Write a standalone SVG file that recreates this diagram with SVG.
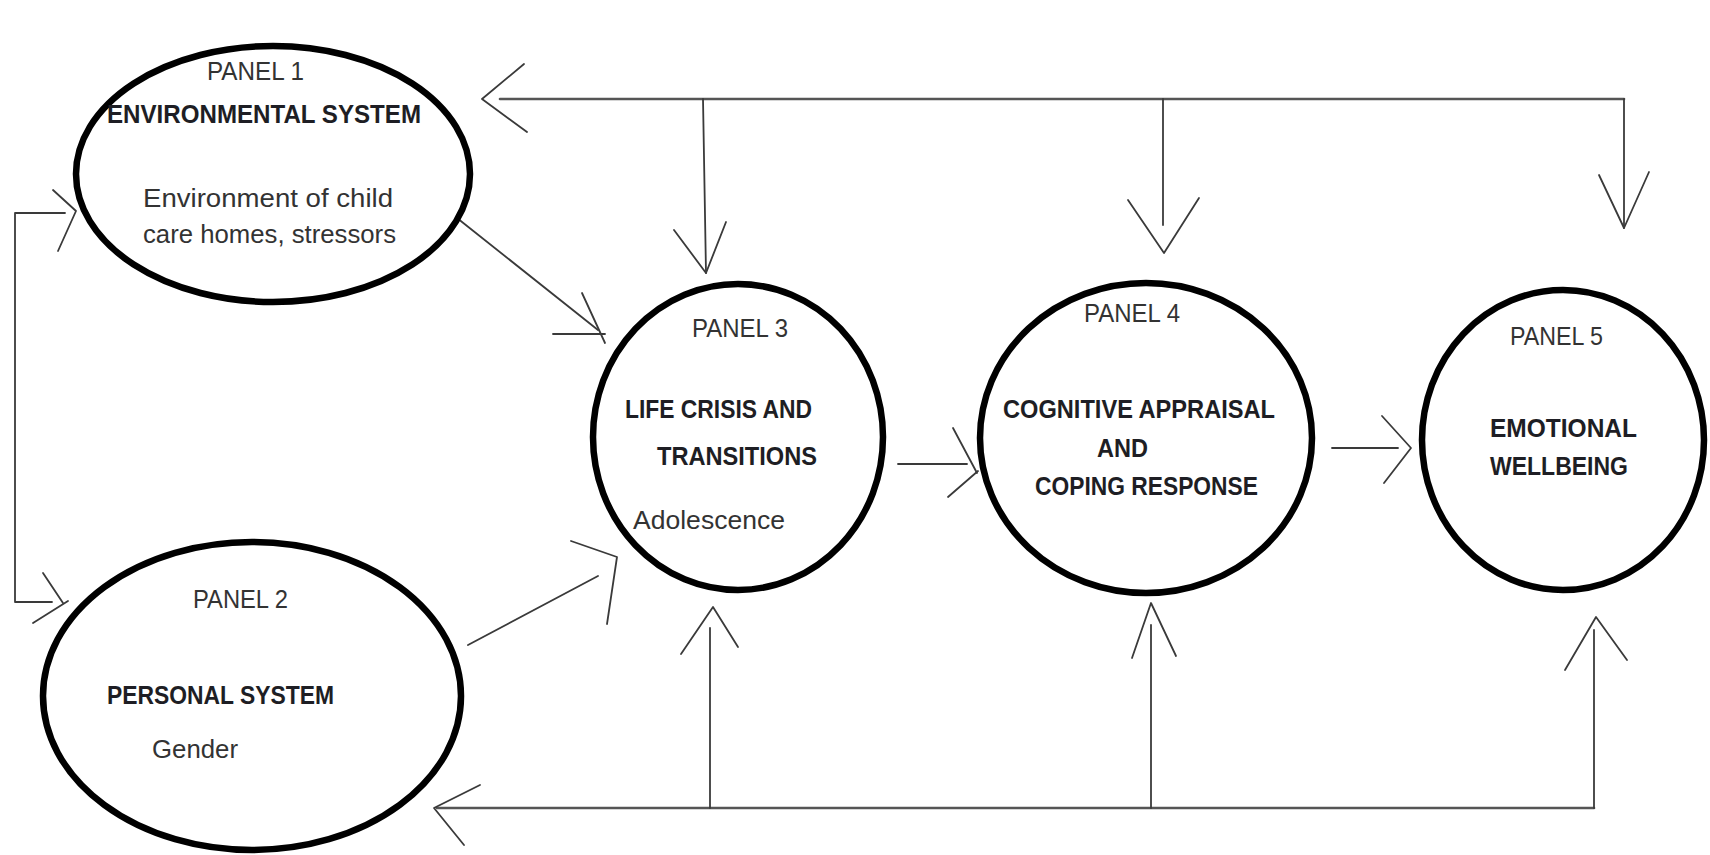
<svg xmlns="http://www.w3.org/2000/svg" width="1710" height="855" viewBox="0 0 1710 855">
<style>
.node{fill:#fff;stroke:#000;stroke-width:6.5}
.lbl{font-family:"Liberation Sans",Arial,sans-serif;font-size:26px;fill:#333}
.ttl{font-family:"Liberation Sans",Arial,sans-serif;font-size:26px;font-weight:bold;fill:#1e1e24}
.c line,.c polyline{stroke:#3a3a3a;stroke-width:1.8;fill:none;stroke-linecap:round;stroke-linejoin:round}
.c .main{stroke-width:2.6;stroke:#555}
</style>
<rect width="1710" height="855" fill="#fff"/>
<g class="c" id="connectors">
<!-- top feedback line -->
<line class="main" x1="500" y1="99" x2="1624" y2="99"/>
<polyline points="524,64 482,99 527,132"/>
<line x1="1624" y1="99" x2="1624" y2="228"/>
<polyline points="1599,175 1624,228 1649,172"/>
<line x1="703" y1="99" x2="706" y2="273"/>
<polyline points="674,230 706,273 726,222"/>
<line x1="1163" y1="99" x2="1163" y2="225"/>
<polyline points="1128,200 1164,253 1199,198"/>
<!-- bottom feedback line -->
<line class="main" x1="437" y1="808" x2="1594" y2="808"/>
<polyline points="480,785 434,808 464,845"/>
<line x1="710" y1="808" x2="710" y2="628"/>
<polyline points="681,654 713,607 738,647"/>
<line x1="1151" y1="808" x2="1151" y2="625"/>
<polyline points="1132,658 1151,603 1176,656"/>
<line x1="1594" y1="808" x2="1594" y2="630"/>
<polyline points="1565,670 1596,617 1627,660"/>
<!-- left bracket -->
<polyline points="65,213 15,213 15,602 52,602"/>
<polyline points="53,190 76,211 58,251"/>
<line x1="43" y1="573" x2="63" y2="603"/>
<line x1="68" y1="601" x2="33" y2="623"/>
<!-- panel 1 to panel 3 -->
<line x1="457" y1="218" x2="598" y2="330"/>
<line x1="553" y1="334" x2="605" y2="334"/>
<line x1="582" y1="293" x2="605" y2="343"/>
<!-- panel 2 to panel 3 -->
<line x1="468" y1="645" x2="598" y2="576"/>
<polyline points="571,541 617,557 607,624"/>
<!-- panel 3 to panel 4 -->
<line x1="898" y1="464" x2="967" y2="464"/>
<line x1="953" y1="428" x2="977" y2="473"/>
<line x1="948" y1="497" x2="978" y2="471"/>
<!-- panel 4 to panel 5 -->
<line x1="1332" y1="448" x2="1398" y2="448"/>
<polyline points="1382,416 1411,448 1384,483"/>
</g>
<g id="panel1">
<ellipse class="node" cx="273" cy="174" rx="197" ry="128"/>
<text class="lbl" x="207" y="80" textLength="97" lengthAdjust="spacingAndGlyphs">PANEL 1</text>
<text class="ttl" x="107" y="123" textLength="314" lengthAdjust="spacingAndGlyphs">ENVIRONMENTAL SYSTEM</text>
<text class="lbl" x="143" y="207" textLength="250" lengthAdjust="spacingAndGlyphs">Environment of child</text>
<text class="lbl" x="143" y="243" textLength="253" lengthAdjust="spacingAndGlyphs">care homes, stressors</text>
</g>
<g id="panel2">
<ellipse class="node" cx="252" cy="696" rx="209" ry="154"/>
<text class="lbl" x="193" y="608" textLength="95" lengthAdjust="spacingAndGlyphs">PANEL 2</text>
<text class="ttl" x="107" y="704" textLength="227" lengthAdjust="spacingAndGlyphs">PERSONAL SYSTEM</text>
<text class="lbl" x="152" y="758" textLength="86" lengthAdjust="spacingAndGlyphs">Gender</text>
</g>
<g id="panel3">
<ellipse class="node" cx="738" cy="437" rx="145" ry="153"/>
<text class="lbl" x="692" y="337" textLength="96" lengthAdjust="spacingAndGlyphs">PANEL 3</text>
<text class="ttl" x="625" y="418" textLength="187" lengthAdjust="spacingAndGlyphs">LIFE CRISIS AND</text>
<text class="ttl" x="657" y="465" textLength="160" lengthAdjust="spacingAndGlyphs">TRANSITIONS</text>
<text class="lbl" x="633" y="529" textLength="152" lengthAdjust="spacingAndGlyphs">Adolescence</text>
</g>
<g id="panel4">
<ellipse class="node" cx="1146" cy="438" rx="166" ry="155"/>
<text class="lbl" x="1084" y="322" textLength="96" lengthAdjust="spacingAndGlyphs">PANEL 4</text>
<text class="ttl" x="1003" y="418" textLength="272" lengthAdjust="spacingAndGlyphs">COGNITIVE APPRAISAL</text>
<text class="ttl" x="1097" y="457" textLength="51" lengthAdjust="spacingAndGlyphs">AND</text>
<text class="ttl" x="1035" y="495" textLength="223" lengthAdjust="spacingAndGlyphs">COPING RESPONSE</text>
</g>
<g id="panel5">
<ellipse class="node" cx="1563" cy="440" rx="141" ry="150"/>
<text class="lbl" x="1510" y="345" textLength="93" lengthAdjust="spacingAndGlyphs">PANEL 5</text>
<text class="ttl" x="1490" y="437" textLength="147" lengthAdjust="spacingAndGlyphs">EMOTIONAL</text>
<text class="ttl" x="1490" y="475" textLength="138" lengthAdjust="spacingAndGlyphs">WELLBEING</text>
</g>
</svg>
